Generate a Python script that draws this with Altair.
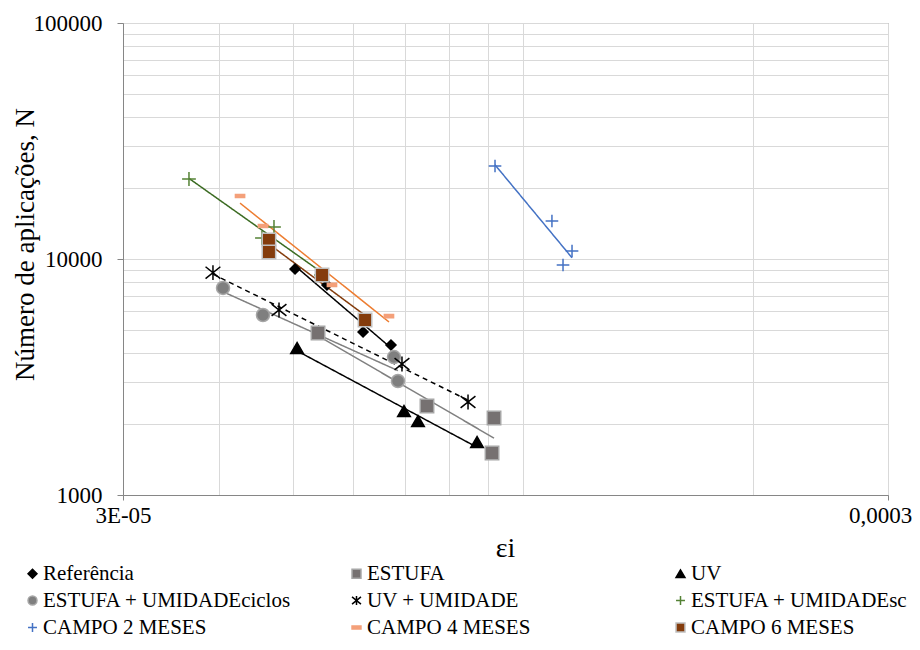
import altair as alt
import pandas as pd

series_names = [
    "Referência", "ESTUFA", "UV",
    "ESTUFA + UMIDADEciclos", "UV + UMIDADE", "ESTUFA + UMIDADEsc",
    "CAMPO 2 MESES", "CAMPO 4 MESES", "CAMPO 6 MESES",
]

ref_x = [5.035e-5, 5.543e-5, 6.179e-5, 6.721e-5]
ref_n = [9070, 7760, 4906, 4322]

estufa_x = [5.396e-5, 7.490e-5, 9.165e-5, 9.110e-5]
estufa_n = [4858, 2384, 2120, 1506]

uv_x = [5.066e-5, 6.989e-5, 7.290e-5, 8.708e-5]
uv_n = [4197, 2270, 2059, 1677]

eu_ciclos_x = [4.054e-5, 4.572e-5, 6.782e-5, 6.864e-5]
eu_ciclos_n = [7537, 5790, 3843, 3041]

uvu_x = [3.933e-5, 4.798e-5, 6.947e-5, 8.475e-5]
uvu_n = [8750, 6081, 3590, 2478]

eu_sc_x = [3.659e-5, 4.726e-5, 4.558e-5, 5.444e-5]
eu_sc_n = [21827, 13665, 12275, 8556]

c2_x = [9.192e-5, 1.091e-4, 1.159e-4, 1.128e-4]
c2_n = [24780, 14490, 10812, 9432]

c4_x = [4.267e-5, 4.572e-5, 5.627e-5, 6.680e-5]
c4_n = [18490, 13800, 7761, 5733]

c6_x = [4.655e-5, 4.655e-5, 5.461e-5, 6.216e-5]
c6_n = [12038, 10707, 8556, 5514]

all_x = [ref_x, estufa_x, uv_x, eu_ciclos_x, uvu_x, eu_sc_x, c2_x, c4_x, c6_x]
all_n = [ref_n, estufa_n, uv_n, eu_ciclos_n, uvu_n, eu_sc_n, c2_n, c4_n, c6_n]

rows = []
for name, xs, ns in zip(series_names, all_x, all_n):
    for xv, nv in zip(xs, ns):
        rows.append({"series": name, "strain": xv, "N": nv})
df = pd.DataFrame(rows)

x_grid = [3e-5, 4e-5, 5e-5, 6e-5, 7e-5, 8e-5, 9e-5, 1e-4, 2e-4, 3e-4]
y_grid = [1000, 2000, 3000, 4000, 5000, 6000, 7000, 8000, 9000,
          10000, 20000, 30000, 40000, 50000, 60000, 70000, 80000, 90000, 100000]

FONT = "Liberation Serif"

line_colors = ["#000000", "#808080", "#000000", "#808080", "#000000",
               "#3b6b22", "#4472C4", "#ED7D31", "#843C0C"]
dashes = [[1, 0], [1, 0], [1, 0], [1, 0], [5, 4], [1, 0], [1, 0], [1, 0], [1, 0]]

PLUS = "M-1,0L1,0M0,-1L0,1"
ASTER = "M-1,-0.8L1,0.8M-1,0.8L1,-0.8M0,-1L0,1"
DASH = "M-1,-0.35L1,-0.35L1,0.35L-1,0.35Z"
shapes = ["diamond", "square", "triangle-up", "circle", ASTER, PLUS, PLUS, DASH, "square"]
fills = ["#000000", "#767171", "#000000", "#7f7f7f", "transparent",
         "transparent", "transparent", "#F4A07A", "#843C0C"]
strokes = ["#000000", "#a6a6a6", "#000000", "#a6a6a6", "#000000",
           "#548235", "#4472C4", "#F4A07A", "#bfbfbf"]
sizes = [100, 180, 160, 170, 220, 190, 160, 85, 180]

x_tick_test = "datum.value < 3.5e-5 || datum.value > 2.9e-4"
y_tick_test = "abs(log(datum.value)/LN10 - round(log(datum.value)/LN10)) < 0.001"

xscale = alt.Scale(type="log", domain=[3e-5, 3e-4], nice=False)
yscale = alt.Scale(type="log", domain=[1000, 100000], nice=False)

xaxis = alt.Axis(
    values=x_grid,
    labelExpr="datum.value < 3.5e-5 ? '3E-05' : (datum.value > 2.9e-4 ? '0,0003' : '')",
    tickOpacity={"condition": {"test": x_tick_test, "value": 1}, "value": 0},
    labelOffset={"condition": {"test": "datum.value > 2.9e-4", "value": -8}, "value": 0},
    labelFontSize=23, labelFont=FONT, labelColor="#000000",
    labelPadding=4, tickSize=5, labelFlush=False, labelOverlap=False,
    title="εi", titleFont=FONT, titleFontSize=28, titleFontWeight="normal",
    titleColor="#000000", titleX=382, titleY=53, titleBaseline="middle",
    titleAlign="center",
)
yaxis = alt.Axis(
    values=y_grid,
    labelExpr="(" + y_tick_test + ") ? format(datum.value, 'd') : ''",
    tickOpacity={"condition": {"test": y_tick_test, "value": 1}, "value": 0},
    labelFontSize=23, labelFont=FONT, labelColor="#000000",
    labelPadding=15, tickSize=6, labelFlush=False, labelOverlap=False,
    title="Número de aplicações, N", titleFont=FONT, titleFontSize=27,
    titleFontWeight="normal", titleColor="#000000", titleAngle=-90,
    titleX=-98, titleY=221, titleBaseline="middle", titleAlign="center",
)

x_enc = alt.X("strain:Q", scale=xscale, axis=xaxis)
y_enc = alt.Y("N:Q", scale=yscale, axis=yaxis)

lines = alt.Chart(df).transform_regression(
    "strain", "N", method="pow", groupby=["series"]
).mark_line(strokeWidth=1.5).encode(
    x=x_enc,
    y=y_enc,
    color=alt.Color("series:N", sort=series_names, scale=alt.Scale(range=line_colors), legend=None),
    strokeDash=alt.StrokeDash("series:N", sort=series_names, scale=alt.Scale(range=dashes), legend=None),
    detail="series:N",
)

leg = alt.Legend(
    title=None, orient="none", legendX=-101, legendY=540, columns=3,
    direction="horizontal",
    gridAlign="all", columnPadding=54, rowPadding=5, padding=0,
    labelFont=FONT, labelFontSize=21, labelColor="#000000", labelLimit=400,
    labelOffset=0, symbolSize=80, symbolStrokeWidth=1.5,
)

points = alt.Chart(df).mark_point(opacity=1, strokeWidth=1.5).encode(
    x=x_enc,
    y=y_enc,
    shape=alt.Shape("series:N", scale=alt.Scale(domain=series_names, range=shapes), legend=leg),
    fill=alt.Fill("series:N", scale=alt.Scale(domain=series_names, range=fills), legend=leg),
    stroke=alt.Stroke("series:N", scale=alt.Scale(domain=series_names, range=strokes), legend=leg),
    size=alt.Size("series:N", sort=series_names, scale=alt.Scale(type="ordinal", range=sizes), legend=None),
)

chart = alt.layer(lines, points).properties(
    width=765, height=472,
    autosize=alt.AutoSizeParams(type="none"),
    padding={"left": 115, "top": 15, "right": 24, "bottom": 143},
).configure(
    font=FONT,
).configure_view(
    stroke="#868686", strokeWidth=1,
).configure_axis(
    domainColor="#868686", tickColor="#868686", gridColor="#d9d9d9",
    gridWidth=1, domainWidth=1, labelFont=FONT, titleFont=FONT,
).configure_legend(
    labelFont=FONT, labelFontSize=21, labelColor="#000000",
)

chart.save("out.html", embed_options={"renderer": "svg", "actions": False})
